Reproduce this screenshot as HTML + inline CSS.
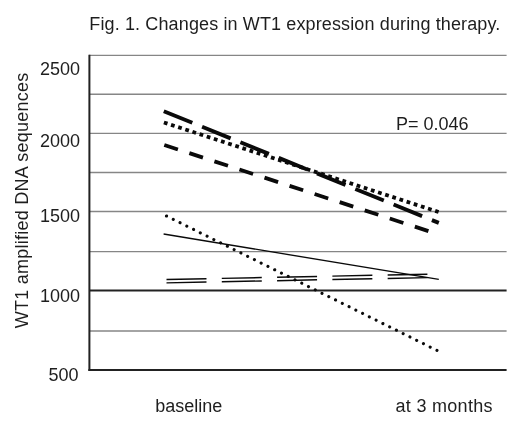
<!DOCTYPE html>
<html><head><meta charset="utf-8">
<style>
html,body{margin:0;padding:0;background:#fff;}
svg{display:block}
text{font-family:"Liberation Sans",sans-serif;fill:#1e1e1e;font-size:18px}
</style></head>
<body>
<svg width="520" height="422" viewBox="0 0 520 422" xmlns="http://www.w3.org/2000/svg">
<rect width="520" height="422" fill="#fff"/>
<!-- gridlines -->
<g stroke="#868686" stroke-width="1.4" fill="none">
<line x1="89" x2="506.6" y1="55.4" y2="55.4"/>
<line x1="89" x2="506.6" y1="94.3" y2="94.3"/>
<line x1="89" x2="506.6" y1="133.4" y2="133.4"/>
<line x1="89" x2="506.6" y1="172.5" y2="172.5"/>
<line x1="89" x2="506.6" y1="211.5" y2="211.5"/>
<line x1="89" x2="506.6" y1="251.6" y2="251.6"/>
<line x1="89" x2="506.6" y1="331" y2="331"/>
</g>
<g stroke="#222" stroke-width="2" fill="none">
<line x1="89" x2="506.6" y1="290.5" y2="290.5"/>
<line x1="88.4" x2="506.6" y1="370" y2="370"/>
<line x1="89.4" x2="89.4" y1="54.7" y2="371"/>
</g>
<!-- data lines -->
<g fill="none" stroke="#0a0a0a">
<line x1="163.8" y1="111.2" x2="438.8" y2="222.9" stroke-width="3.9" stroke-dasharray="30.76 10.58"/>
<line x1="163.9" y1="122.5" x2="438.6" y2="212" stroke-width="3.8" stroke-dasharray="3.76 3.748"/>
<line x1="164.3" y1="145" x2="429" y2="231.3" stroke-width="3.8" stroke-dasharray="14.3 12.05"/>
<line x1="166.5" y1="216" x2="437.6" y2="350.7" stroke-width="3.1" stroke-dasharray="0.01 7.54" stroke-linecap="round"/>
<line x1="163.6" y1="234" x2="438.8" y2="279.4" stroke-width="1.35"/>
<line x1="166.5" y1="279.5" x2="427.4" y2="274.2" stroke-width="1.45" stroke-dasharray="40 15.3"/>
<line x1="166.5" y1="282.9" x2="427.4" y2="277.6" stroke-width="1.45" stroke-dasharray="40 15.3"/>
</g>
<!-- text -->
<text id="title" x="89.3" y="29.6" textLength="411">Fig. 1. Changes in WT1 expression during therapy.</text>
<text x="80" y="74.9" text-anchor="end">2500</text>
<text x="80" y="146.7" text-anchor="end">2000</text>
<text x="80" y="221.7" text-anchor="end">1500</text>
<text x="80" y="301.5" text-anchor="end">1000</text>
<text x="78.5" y="380.8" text-anchor="end">500</text>
<text x="396" y="130.1">P= 0.046</text>
<text x="155.3" y="411.5">baseline</text>
<text x="395.5" y="411.8" textLength="97">at 3 months</text>
<text transform="translate(28.1,328.3) rotate(-90)" textLength="255.5">WT1 amplified DNA sequences</text>
</svg>
</body></html>
